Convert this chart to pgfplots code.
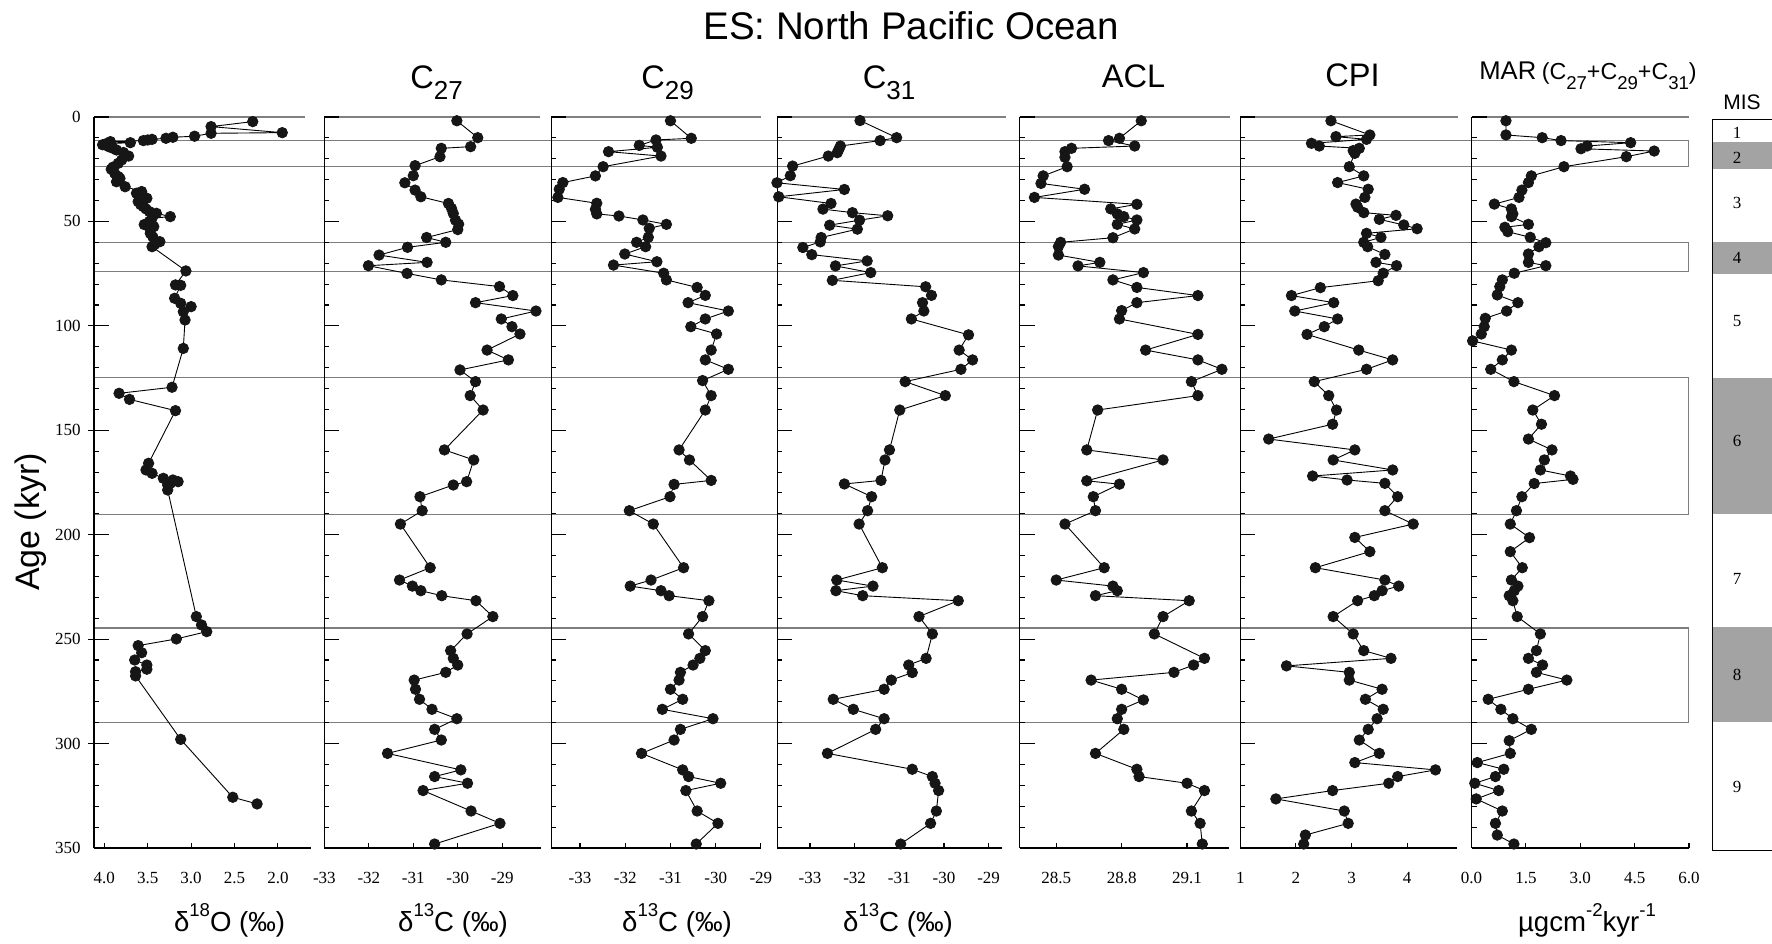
\documentclass[border=0pt]{standalone}
\usepackage{pgfplots}
\pgfplotsset{compat=1.18}
\usepackage{pgfplotstable}
\usepackage{fontspec}
\setmainfont{Liberation Sans}
\newfontfamily\tnr{Liberation Serif}

\definecolor{misgray}{RGB}{163,163,163}
\definecolor{linegray}{RGB}{125,125,125}
\definecolor{topgray}{RGB}{128,128,128}
\definecolor{dot}{RGB}{22,22,22}

\pgfplotstableread{
a v
2.2 2.29
4.6 2.77
7.5 1.95
7.8 2.77
9.2 2.96
9.7 3.21
10.2 3.29
10.7 3.45
11.0 3.50
11.3 3.55
11.8 3.93
12.3 3.70
12.8 3.98
13.3 4.02
14.2 3.95
15.0 3.90
15.8 3.86
17.0 3.78
18.7 3.72
20.6 3.80
22.2 3.84
24.0 3.90
25.0 3.92
27.0 3.88
28.5 3.84
29.4 3.82
31.0 3.86
33.4 3.76
35.7 3.57
36.5 3.63
38.9 3.51
40.5 3.61
42.0 3.58
42.9 3.55
44.0 3.52
45.3 3.48
46.1 3.40
47.7 3.24
48.5 3.45
50.0 3.48
51.5 3.54
52.5 3.43
54.0 3.47
55.7 3.47
57.5 3.44
59.7 3.36
61.0 3.42
62.1 3.45
73.7 3.06
80.4 3.18
80.6 3.12
86.8 3.19
89.2 3.12
90.8 3.00
93.2 3.09
97.2 3.07
110.8 3.09
129.4 3.22
132.3 3.83
135.2 3.71
140.6 3.18
165.8 3.49
169.0 3.52
170.6 3.45
173.0 3.32
173.8 3.21
174.6 3.15
175.4 3.24
176.2 3.27
178.6 3.27
239.2 2.94
243.2 2.88
246.4 2.82
249.9 3.17
253.1 3.61
256.5 3.57
260.0 3.65
262.4 3.51
264.4 3.51
265.6 3.64
267.6 3.64
298.0 3.12
325.7 2.52
328.9 2.24
}\dA

\pgfplotstableread{
a v
1.8 -30.02
9.9 -29.55
14.2 -29.71
15.0 -30.37
19.0 -30.40
23.3 -30.96
28.1 -31.00
31.5 -31.19
35.0 -30.96
38.2 -30.83
41.4 -30.21
43.8 -30.14
46.2 -30.10
49.4 -30.05
51.3 -29.98
53.9 -30.00
57.7 -30.70
60.0 -30.27
62.4 -31.13
66.1 -31.77
69.6 -30.69
71.2 -32.01
74.9 -31.14
78.0 -30.37
81.2 -29.06
85.5 -28.76
88.9 -29.60
92.9 -28.24
96.7 -29.02
100.4 -28.78
103.9 -28.60
111.6 -29.34
116.3 -28.86
121.1 -29.95
126.7 -29.60
133.4 -29.72
140.3 -29.43
159.4 -30.30
164.2 -29.64
174.6 -29.80
176.2 -30.10
181.8 -30.85
188.5 -30.80
194.9 -31.29
215.8 -30.62
221.7 -31.31
224.6 -31.02
226.8 -30.83
229.2 -30.36
231.6 -29.59
239.2 -29.21
247.5 -29.79
255.5 -30.16
259.2 -30.10
262.4 -30.00
265.9 -30.27
269.6 -30.98
274.0 -30.95
278.8 -30.86
283.6 -30.58
288.1 -30.02
293.2 -30.52
298.3 -30.37
304.7 -31.58
312.6 -29.93
315.8 -30.52
319.0 -29.78
322.5 -30.78
332.3 -29.70
338.2 -29.05
348.1 -30.52
}\dB

\pgfplotstableread{
a v
1.8 -31.00
10.2 -30.54
11.0 -31.32
13.6 -31.69
14.5 -31.29
16.6 -32.37
18.7 -31.21
23.8 -32.49
28.2 -32.66
31.4 -33.38
34.6 -33.46
38.5 -33.49
41.3 -32.63
44.2 -32.66
46.4 -32.63
47.4 -32.14
49.3 -31.61
51.4 -31.09
53.3 -31.47
57.6 -31.49
60.0 -31.75
62.1 -31.55
65.6 -32.01
69.3 -31.30
70.9 -32.26
74.8 -31.15
78.0 -31.09
81.6 -30.41
85.4 -30.23
88.9 -30.61
92.9 -29.72
96.7 -30.23
100.4 -30.55
103.9 -29.98
111.6 -30.10
116.3 -30.23
120.8 -29.72
126.2 -30.29
133.4 -30.10
140.3 -30.23
159.4 -30.81
164.2 -30.58
174.0 -30.10
175.9 -30.92
181.8 -31.01
188.5 -31.91
194.9 -31.38
215.8 -30.71
221.7 -31.43
224.6 -31.89
226.8 -31.21
229.2 -31.03
231.6 -30.15
239.2 -30.29
247.5 -30.60
255.5 -30.23
259.2 -30.35
262.4 -30.50
265.9 -30.78
269.6 -30.81
274.0 -31.00
278.8 -30.73
283.6 -31.18
288.1 -30.06
293.2 -30.78
298.3 -30.92
304.7 -31.64
312.6 -30.73
315.8 -30.60
319.0 -29.89
322.5 -30.66
332.3 -30.41
338.2 -29.95
348.1 -30.43
}\dC

\pgfplotstableread{
a v
1.7 -31.88
9.9 -31.06
11.3 -31.43
13.9 -32.32
15.8 -32.36
17.1 -32.39
18.7 -32.59
23.5 -33.39
28.1 -33.44
31.5 -33.74
34.7 -32.23
38.2 -33.70
41.4 -32.53
44.1 -32.71
45.8 -32.05
47.3 -31.26
49.4 -31.89
51.8 -32.56
53.7 -31.94
57.7 -32.75
59.8 -32.77
62.5 -33.16
65.9 -32.96
68.9 -31.72
71.3 -32.43
74.5 -31.64
78.2 -32.50
81.3 -30.41
85.4 -30.28
88.9 -30.48
92.9 -30.45
96.7 -30.73
104.3 -29.45
111.6 -29.66
116.3 -29.36
120.8 -29.62
126.7 -30.87
133.4 -29.97
140.3 -30.99
159.4 -31.22
164.2 -31.32
174.0 -31.41
175.7 -32.23
181.8 -31.62
188.5 -31.71
194.9 -31.90
215.8 -31.38
221.7 -32.40
224.6 -31.59
226.8 -32.42
229.2 -31.82
231.6 -29.68
239.2 -30.56
247.5 -30.26
259.2 -30.40
262.4 -30.79
266.0 -30.71
269.6 -31.18
274.0 -31.34
278.8 -32.48
283.6 -32.03
288.1 -31.34
293.2 -31.53
304.7 -32.61
312.3 -30.71
315.8 -30.26
319.0 -30.20
322.5 -30.12
332.3 -30.17
338.2 -30.30
348.1 -30.97
}\dD

\pgfplotstableread{
a v
1.8 28.89
10.2 28.79
11.3 28.74
13.9 28.86
15.0 28.57
16.6 28.54
19.3 28.54
23.8 28.55
28.2 28.44
31.8 28.43
34.6 28.63
38.5 28.40
41.8 28.87
44.0 28.75
46.4 28.78
47.7 28.81
49.3 28.87
51.4 28.78
53.6 28.86
57.8 28.76
60.0 28.52
62.0 28.51
66.1 28.51
69.6 28.70
71.3 28.60
74.5 28.90
78.0 28.76
81.6 28.87
85.5 29.15
88.9 28.87
92.7 28.80
96.7 28.79
104.1 29.15
111.6 28.91
116.3 29.15
120.8 29.26
126.7 29.12
133.4 29.15
140.3 28.69
159.4 28.64
164.2 28.99
174.2 28.64
175.8 28.79
181.8 28.67
188.5 28.68
194.9 28.54
215.8 28.72
221.7 28.50
224.6 28.76
226.8 28.78
229.2 28.68
231.6 29.11
239.2 28.99
247.5 28.95
259.2 29.18
262.4 29.13
265.9 29.04
269.6 28.66
274.0 28.80
279.1 28.90
283.6 28.80
288.1 28.78
293.2 28.81
304.7 28.68
312.3 28.87
315.8 28.88
319.0 29.10
322.5 29.18
332.3 29.12
338.2 29.16
348.1 29.17
}\dE

\pgfplotstableread{
a v
1.8 2.63
8.6 3.33
9.4 2.72
10.7 3.27
12.6 2.28
13.9 2.42
15.0 3.14
16.1 3.03
17.4 3.06
23.8 2.96
28.2 3.22
31.4 2.75
34.6 3.30
38.5 3.24
41.7 3.08
43.2 3.11
45.8 3.22
47.1 3.80
49.0 3.50
51.7 3.94
53.5 4.18
55.7 3.27
57.6 3.53
60.0 3.22
62.1 3.29
65.8 3.60
69.6 3.44
71.2 3.81
74.8 3.57
78.4 3.48
81.7 2.44
85.5 1.92
88.9 2.68
92.9 1.98
96.7 2.75
100.4 2.51
104.1 2.20
111.6 3.13
116.3 3.74
120.8 3.27
126.7 2.33
133.4 2.59
140.3 2.73
147.1 2.66
154.2 1.51
159.4 3.06
164.2 2.67
169.0 3.74
171.9 2.30
173.8 2.92
175.4 3.60
181.8 3.83
188.5 3.60
194.9 4.11
201.3 3.06
208.1 3.33
215.8 2.35
221.7 3.60
224.6 3.85
226.8 3.55
229.2 3.41
231.6 3.11
239.2 2.67
247.5 3.03
255.5 3.22
259.2 3.71
262.8 1.83
265.9 2.96
269.6 2.96
274.0 3.55
278.8 3.25
283.6 3.57
288.1 3.46
293.2 3.30
298.3 3.14
304.7 3.50
309.1 3.06
312.6 4.51
315.8 3.83
319.0 3.67
322.5 2.66
326.5 1.64
332.3 2.87
338.2 2.94
343.8 2.17
348.1 2.14
}\dF

\pgfplotstableread{
a v
1.8 0.95
8.6 0.95
9.9 1.95
11.3 2.47
12.3 4.39
13.9 3.19
15.2 3.02
16.3 5.04
19.0 4.27
23.8 2.55
28.2 1.65
31.4 1.57
35.0 1.39
38.5 1.31
41.7 0.63
44.0 1.10
46.4 1.14
47.7 1.10
51.4 1.57
52.8 0.92
54.9 1.00
57.6 1.62
60.2 2.05
62.1 1.86
65.6 1.57
69.6 1.57
71.2 2.05
74.8 1.18
78.0 0.85
81.2 0.78
85.2 0.71
88.9 1.28
92.9 0.97
96.4 0.38
100.4 0.35
103.9 0.27
107.2 0.03
111.6 1.10
116.3 0.85
120.8 0.53
126.7 1.17
133.4 2.29
140.3 1.69
147.1 1.93
154.2 1.57
159.4 2.22
164.2 2.01
169.0 1.90
171.9 2.73
173.5 2.80
175.5 1.73
181.8 1.39
188.5 1.24
194.9 1.07
201.4 1.60
208.1 1.07
215.8 1.40
221.7 1.10
224.6 1.28
226.8 1.18
229.2 1.04
231.6 1.14
239.2 1.26
247.5 1.90
255.5 1.79
259.2 1.57
262.4 1.96
265.9 1.79
269.6 2.63
274.0 1.57
278.8 0.46
283.6 0.81
288.1 1.14
293.2 1.65
298.6 1.04
304.7 1.07
309.1 0.16
312.3 0.89
315.8 0.66
319.0 0.09
322.5 0.75
326.5 0.13
332.3 0.85
338.2 0.66
343.8 0.71
348.1 1.17
}\dG

\pgfplotsset{
  panel/.style={scale only axis, height=365.5pt, ymin=-350, ymax=0, clip=false, anchor=south west},
  yax/.style={panel, hide x axis, axis y line*=left,
    y axis line style={-, black, line width=0.55pt},
    ytick={-350,-300,...,0}, minor y tick num=4, tick align=inside,
    major tick length=7.5pt, minor tick length=2.5pt,
    tick style={black, line width=0.55pt}},
  nolab/.style={yticklabels={}},
  xax/.style={panel, hide y axis, axis x line*=bottom,
    x axis line style={-, black, line width=0.8pt},
    tick align=inside, major tick length=2.5pt,
    tick style={black, line width=0.55pt},
    xticklabel style={font=\tnr\fontsize{8.5}{10}\selectfont, anchor=center, yshift=-15pt}},
  ser/.style={black, line width=0.45pt, mark=*, mark size=2.6pt,
    mark options={fill=dot, draw=dot, solid}},
  rect/.style={draw=linegray, line width=0.6pt},
  topl/.style={draw=topgray, line width=1.1pt},
}

\newcommand{\tsub}[1]{\raisebox{-5.5pt}{\fontsize{13}{13}\selectfont #1}}
\newcommand{\msub}[1]{\raisebox{-5pt}{\fontsize{9.3}{10}\selectfont #1}}
\newcommand{\tsup}[1]{\raisebox{7.5pt}{\fontsize{9.3}{10}\selectfont #1}}

\begin{document}
\begin{tikzpicture}
\useasboundingbox (0,0) rectangle (886pt,471.5pt);

% ---------- overlay: stage boxes, top lines, MIS column ----------
\begin{axis}[scale only axis, at={(0pt,47.5pt)}, anchor=south west,
  width=886pt, height=365.5pt, xmin=0, xmax=1772, ymin=-350, ymax=0,
  hide axis, clip=false]
  \addplot[draw=none, fill=misgray] coordinates {(1712.6,-11.8) (1790,-11.8) (1790,-25.1) (1712.6,-25.1)};
  \addplot[draw=none, fill=misgray] coordinates {(1712.6,-60.0) (1790,-60.0) (1790,-75.2) (1712.6,-75.2)};
  \addplot[draw=none, fill=misgray] coordinates {(1712.6,-125.2) (1790,-125.2) (1790,-190.2) (1712.6,-190.2)};
  \addplot[draw=none, fill=misgray] coordinates {(1712.6,-244.3) (1790,-244.3) (1790,-289.7) (1712.6,-289.7)};
  \addplot[black, line width=0.5pt] coordinates {(1790,-1.4) (1712.6,-1.4) (1712.6,-351.4) (1790,-351.4)};
  \addplot[rect] coordinates {(94,-11.3) (1688.4,-11.3) (1688.4,-23.8) (94,-23.8)};
  \addplot[rect] coordinates {(94,-60.0) (1688.4,-60.0) (1688.4,-73.8) (94,-73.8)};
  \addplot[rect] coordinates {(94,-124.8) (1688.4,-124.8) (1688.4,-190.3) (94,-190.3)};
  \addplot[rect] coordinates {(94,-244.7) (1688.4,-244.7) (1688.4,-290.0) (94,-290.0)};
  \addplot[topl] coordinates {(94,0) (305,0)};
  \addplot[topl] coordinates {(324.5,0) (539.6,0)};
  \addplot[topl] coordinates {(551,0) (760.7,0)};
  \addplot[topl] coordinates {(778,0) (1006,0)};
  \addplot[topl] coordinates {(1019.8,0) (1230,0)};
  \addplot[topl] coordinates {(1240,0) (1458,0)};
  \addplot[topl] coordinates {(1472,0) (1689,0)};
  \foreach \n/\y in {1/7.8,2/19.7,3/41,4/67.7,5/97.7,6/155,7/221,8/267,9/321}{
    \edef\tmp{\noexpand\node[font=\noexpand\tnr\noexpand\fontsize{8.5}{10}\noexpand\selectfont] at (axis cs:1737,-\y) {\n};}
    \tmp
  }
\end{axis}

% ---------- Panel 1: d18O ----------
\begin{axis}[yax, at={(47pt,47.5pt)}, width=108.7pt, xmin=-4.119, xmax=-1.614,
  yticklabels={350,300,250,200,150,100,50,0},
  yticklabel style={font=\tnr\fontsize{8.5}{10}\selectfont, anchor=east, inner sep=0pt, xshift=-6.5pt}]
\end{axis}
\begin{axis}[panel, hide x axis, axis y line*=left, y axis line style={draw=none},
  at={(47pt,47.5pt)}, width=108.7pt, xmin=-4.119, xmax=-1.614,
  ytick={-300,-250,...,-50}, yticklabels={}, tick align=outside, major tick length=3pt,
  tick style={black, line width=0.55pt}]
\end{axis}
\begin{axis}[xax, at={(47pt,47.5pt)}, width=108.7pt, xmin=-4.119, xmax=-1.614,
  xtick={-4,-3.5,-3,-2.5,-2}, xticklabels={4.0,3.5,3.0,2.5,2.0}]
  \addplot[ser] table[x expr=-\thisrow{v}, y expr=-\thisrow{a}] {\dA};
\end{axis}

% ---------- Panel 2: C27 ----------
\begin{axis}[yax, nolab, at={(162.2pt,47.5pt)}, width=108.45pt, xmin=-33, xmax=-28.12]
\end{axis}
\begin{axis}[xax, at={(162.2pt,47.5pt)}, width=108.45pt, xmin=-33, xmax=-28.12,
  xtick={-33,-32,-31,-30,-29}, xticklabels={-33,-32,-31,-30,-29}]
  \addplot[ser] table[x=v, y expr=-\thisrow{a}] {\dB};
\end{axis}

% ---------- Panel 3: C29 ----------
\begin{axis}[yax, nolab, at={(275.55pt,47.5pt)}, width=104.9pt, xmin=-33.64, xmax=-29.0]
\end{axis}
\begin{axis}[xax, at={(275.55pt,47.5pt)}, width=104.9pt, xmin=-33.64, xmax=-29.0,
  xtick={-33,-32,-31,-30,-29}, xticklabels={-33,-32,-31,-30,-29}]
  \addplot[ser] table[x=v, y expr=-\thisrow{a}] {\dC};
\end{axis}

% ---------- Panel 4: C31 ----------
\begin{axis}[yax, nolab, at={(388.7pt,47.5pt)}, width=112.3pt, xmin=-33.73, xmax=-28.70]
\end{axis}
\begin{axis}[xax, at={(388.7pt,47.5pt)}, width=112.3pt, xmin=-33.73, xmax=-28.70,
  xtick={-33,-32,-31,-30,-29}, xticklabels={-33,-32,-31,-30,-29}]
  \addplot[ser] table[x=v, y expr=-\thisrow{a}] {\dD};
\end{axis}

% ---------- Panel 5: ACL ----------
\begin{axis}[yax, nolab, at={(509.8pt,47.5pt)}, width=104.85pt, xmin=28.332, xmax=29.294]
\end{axis}
\begin{axis}[xax, at={(509.8pt,47.5pt)}, width=104.85pt, xmin=28.332, xmax=29.294,
  xtick={28.5,28.8,29.1}, xticklabels={28.5,28.8,29.1}]
  \addplot[ser] table[x=v, y expr=-\thisrow{a}] {\dE};
\end{axis}

% ---------- Panel 6: CPI ----------
\begin{axis}[yax, nolab, at={(620.15pt,47.5pt)}, width=108.25pt, xmin=1, xmax=4.894]
\end{axis}
\begin{axis}[xax, at={(620.15pt,47.5pt)}, width=108.25pt, xmin=1, xmax=4.894,
  xtick={1,2,3,4}, xticklabels={1,2,3,4}]
  \addplot[ser] table[x=v, y expr=-\thisrow{a}] {\dF};
\end{axis}

% ---------- Panel 7: MAR ----------
\begin{axis}[yax, nolab, at={(735.75pt,47.5pt)}, width=108.75pt, xmin=0, xmax=6]
\end{axis}
\begin{axis}[xax, at={(735.75pt,47.5pt)}, width=108.75pt, xmin=0, xmax=6,
  xtick={0,1.5,3,4.5,6}, xticklabels={0.0,1.5,3.0,4.5,6.0}]
  \addplot[ser] table[x=v, y expr=-\thisrow{a}] {\dG};
\end{axis}

% ---------- titles ----------
\node[anchor=base, font=\fontsize{19.25}{22}\selectfont] at (455.5pt,451.5pt) {ES: North Pacific Ocean};
\node[anchor=base, font=\fontsize{16.3}{18}\selectfont] at (218.25pt,427.35pt) {C\tsub{27}};
\node[anchor=base, font=\fontsize{16.3}{18}\selectfont] at (333.75pt,427.35pt) {C\tsub{29}};
\node[anchor=base, font=\fontsize{16.3}{18}\selectfont] at (444.5pt,427.35pt) {C\tsub{31}};
\node[anchor=base, font=\fontsize{16.3}{18}\selectfont] at (566.75pt,427.85pt) {ACL};
\node[anchor=base, font=\fontsize{16.3}{18}\selectfont] at (676.25pt,428pt) {CPI};
\node[anchor=base] at (794pt,431.5pt) {{\fontsize{12.8}{14}\selectfont MAR} {\fontsize{11.6}{13}\selectfont (C\msub{27}+C\msub{29}+C\msub{31})}};
\node[anchor=base, font=\fontsize{10.5}{12}\selectfont] at (871pt,416.5pt) {MIS};

\node[anchor=base, font=\fontsize{13.8}{15}\selectfont] at (114.8pt,5.65pt) {δ\tsup{18}O (‰)};
\node[anchor=base, font=\fontsize{13.8}{15}\selectfont] at (226.5pt,5.65pt) {δ\tsup{13}C (‰)};
\node[anchor=base, font=\fontsize{13.8}{15}\selectfont] at (338.5pt,5.65pt) {δ\tsup{13}C (‰)};
\node[anchor=base, font=\fontsize{13.8}{15}\selectfont] at (449pt,5.65pt) {δ\tsup{13}C (‰)};
\node[anchor=base, font=\fontsize{13.8}{15}\selectfont] at (793.5pt,5.65pt) {µgcm\tsup{-2}kyr\tsup{-1}};

\node[rotate=90, font=\fontsize{17}{20}\selectfont] at (15.3pt,210.5pt) {Age (kyr)};
\end{tikzpicture}
\end{document}
